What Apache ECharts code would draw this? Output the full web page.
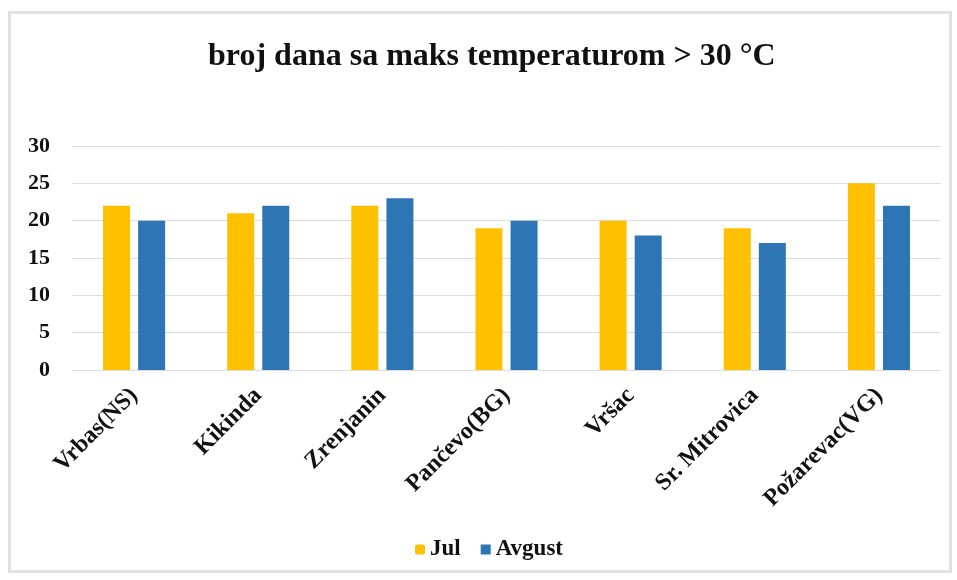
<!DOCTYPE html>
<html>
<head>
<meta charset="utf-8">
<script src="https://cdn.jsdelivr.net/npm/echarts@6/dist/echarts.min.js"></script>
<style>
  html, body { margin: 0; padding: 0; background: #fff; }
  #frame { position: absolute; left: 8px; top: 11px; width: 938px; height: 556px; border: 3px solid #e2e2e2; }
  #main { position: absolute; left: 0; top: 0; width: 957px; height: 580px; }
</style>
</head>
<body>
<div id="frame"></div>
<div id="main"></div>
<script>
const cities = ['Vrbas(NS)', 'Kikinda', 'Zrenjanin', 'Pančevo(BG)', 'Vršac', 'Sr. Mitrovica', 'Požarevac(VG)'];
const jul = [22, 21, 22, 19, 20, 19, 25];
const avgust = [20, 22, 23, 20, 18, 17, 22];

const font = '"Liberation Serif", "Times New Roman", serif';

const myChart = echarts.init(document.getElementById('main'));

const option = {
  backgroundColor: 'transparent',
  title: {
    text: 'broj dana sa maks temperaturom > 30 °C',
    left: 203,
    top: 36,
    textStyle: { fontFamily: font, fontWeight: 'bold', fontSize: 32, color: '#111' }
  },
  legend: {
    bottom: 14,
    left: 410,
    itemWidth: 10,
    itemHeight: 10,
    itemGap: 20,
    textStyle: { fontFamily: font, fontWeight: 'bold', fontSize: 23, color: '#111' },
    data: [
      { name: 'Jul', icon: 'roundRect' },
      { name: 'Avgust', icon: 'rect' }
    ]
  },
  grid: { left: 72, right: 16, top: 146, bottom: 210 },
  xAxis: {
    type: 'category',
    data: cities,
    axisLine: { show: false },
    axisTick: { show: false },
    axisLabel: {
      rotate: 45,
      interval: 0,
      margin: 22,
      fontFamily: font, fontWeight: 'bold', fontSize: 24, color: '#111'
    }
  },
  yAxis: {
    type: 'value',
    min: 0,
    max: 30,
    interval: 5,
    axisLine: { show: false },
    axisTick: { show: false },
    splitLine: { lineStyle: { color: '#dcdcdc', width: 1 } },
    axisLabel: { margin: 22, fontFamily: font, fontWeight: 'bold', fontSize: 22, color: '#111' }
  },
  series: [
    {
      name: 'Jul',
      type: 'bar',
      data: jul,
      barWidth: 27,
      barGap: '30%',
      itemStyle: { color: '#FFC000' }
    },
    {
      name: 'Avgust',
      type: 'bar',
      data: avgust,
      barWidth: 27,
      itemStyle: { color: '#2E75B6' }
    }
  ]
};

myChart.setOption(option);
</script>
</body>
</html>
